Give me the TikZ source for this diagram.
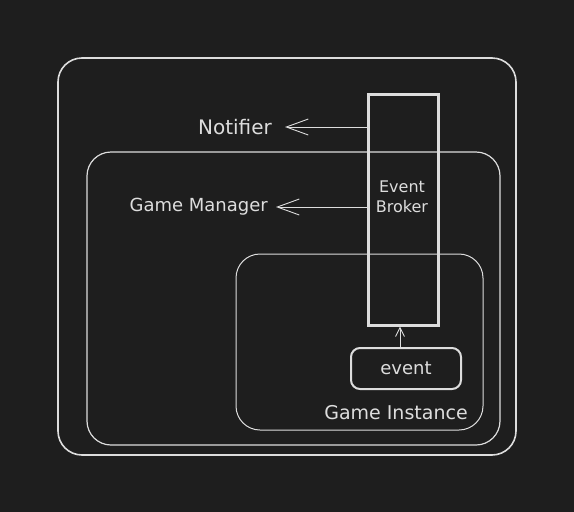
\documentclass[tikz,border=0pt]{standalone}
\usepackage{fontspec}
\setmainfont{DejaVu Sans}
\usetikzlibrary{positioning,arrows.meta}
\definecolor{bg}{HTML}{1E1E1E}
\definecolor{ink}{HTML}{DDDDDD}
\tikzset{
  box/.style={draw=ink,rounded corners=24pt,inner sep=0pt},
  lbl/.style={text=ink,font=\fontsize{18}{20}\selectfont,inner sep=0pt},
  barb/.style={draw=ink,line width=0.9pt,-{Straight Barb[length=22pt,width=16pt]}}
}

\begin{document}
\begin{tikzpicture}[x=1pt,y=-1pt]
\fill[bg] (0,0) rectangle (574,512);

% containers
\node[box,line width=1.6pt,minimum width=458pt,minimum height=397pt] (outer) at (287,256.5) {};
\node[box,line width=1.2pt,minimum width=413pt,minimum height=293pt] (manager) at (293.5,298.5) {};
\node[box,line width=1pt,minimum width=247pt,minimum height=176pt] (instance) at (359.5,342) {};

\node[draw=ink,line width=3pt,inner sep=0pt,minimum width=70pt,minimum height=231pt] (broker) at (403,209.5) {};
\node[text=ink,align=center,font=\fontsize{16}{20}\selectfont] (brokertxt) at (402,197) {Event\\Broker};

\node[draw=ink,line width=2pt,rounded corners=9pt,minimum width=110pt,minimum height=41pt,lbl] (event) at (406,368.5) {event};
\node[lbl,font=\fontsize{19}{20}\selectfont] (instancetxt) at (396,413) {Game Instance};

% arrows to the left
\coordinate (ntip) at (285,127);
\node[lbl,font=\fontsize{20}{20}\selectfont,left=13pt of ntip] (notifier) {Notifier};
\draw[barb] (broker.west |- ntip) -- (ntip);

\coordinate (mtip) at (276,207);
\node[lbl,left=8pt of mtip] (gamemanager) {Game Manager};
\draw[barb] (broker.west |- mtip) -- (mtip);

\draw[draw=ink,line width=0.9pt,-{Straight Barb[length=9pt,width=9pt]}] (event.north -| 400,0) -- (broker.south -| 400,0);
\end{tikzpicture}
\end{document}
